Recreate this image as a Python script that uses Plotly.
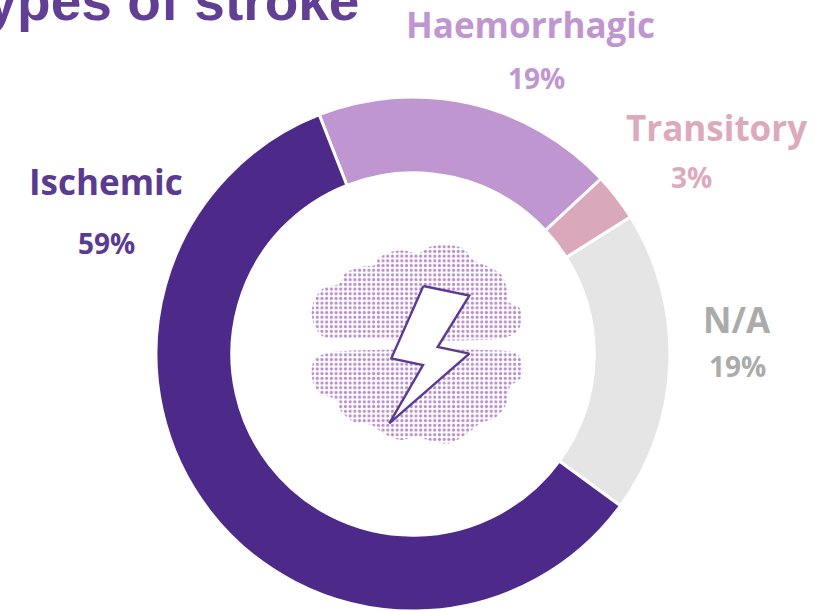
import plotly.graph_objects as go

# Data
categories = ["Haemorrhagic", "Transitory", "N/A", "Ischemic"]
values = [19, 3, 19, 59]
slice_colors = ["#BF96D0", "#D9A9BB", "#E5E5E5", "#4D2A8A"]
label_colors = ["#BF96D0", "#DDA9BC", "#ABABAB", "#5B3A92"]
label_x = [530, 716, 737, 106]
label_y = [24, 127, 319, 181]
value_x = [536, 691, 737, 106]
value_y = [78, 177, 366, 243]
title_text = "Types of stroke"

# Decoration (drawn from the picture, zoomed crop coords -> page px)
upper = [(65,250),(75,205),(100,175),(150,160),(165,130),(215,110),(255,105),(265,85),(305,65),(345,62),(385,70),(420,50),(470,45),(520,55),(550,90),(595,110),(635,135),(650,175),(655,215),(690,235),(695,275),(680,305),(640,325),(170,325),(100,320),(75,290),(65,250)]
lower = [(65,420),(75,385),(110,370),(170,362),(640,362),(680,370),(695,395),(695,440),(660,470),(650,520),(620,560),(570,580),(540,605),(480,640),(430,635),(380,620),(330,630),(280,610),(245,585),(190,575),(150,540),(140,510),(90,490),(70,460),(65,420)]
bolt = [(400,168),(538,197),(443,351),(538,371),(298,580),(399,405),(304,385),(400,168)]
px = lambda pts: ([290 + p[0] / 3 for p in pts], [230 + p[1] / 3 for p in pts])

W, H = 833, 611
CX, CY, R = 413, 354, 257

fig = go.Figure()
for pts in (upper, lower):
    xs, ys = px(pts)
    fig.add_trace(go.Scatter(x=xs, y=ys, mode="lines", line=dict(width=0, color="rgba(0,0,0,0)", shape="spline", smoothing=0.8),
                             fill="toself", fillcolor="rgba(255,255,255,0)",
                             fillpattern=dict(shape=".", size=4.7, solidity=0.34, fgcolor="#B98CCB", bgcolor="white", fgopacity=1),
                             hoverinfo="skip", showlegend=False))
xs, ys = px(bolt)
fig.add_trace(go.Scatter(x=xs, y=ys, mode="lines", line=dict(width=2.4, color="#5B3A92"), fill="toself",
                         fillcolor="white", hoverinfo="skip", showlegend=False))

fig.add_trace(go.Pie(labels=categories, values=values, sort=False, direction="clockwise", rotation=-21.4,
                     hole=0.705, textinfo="none", showlegend=False,
                     marker=dict(colors=slice_colors, line=dict(color="white", width=3)),
                     domain=dict(x=[(CX - R) / W, (CX + R) / W], y=[1 - (CY + R) / H, 1 - (CY - R) / H])))

for c, v, col, lx, ly, vx, vy in zip(categories, values, label_colors, label_x, label_y, value_x, value_y):
    fig.add_annotation(x=lx, y=ly, xref="x", yref="y", text=f"<b>{c}</b>", showarrow=False,
                       font=dict(family="Open Sans", size=35, color=col))
    fig.add_annotation(x=vx, y=vy, xref="x", yref="y", text=f"<b>{v}%</b>", showarrow=False,
                       font=dict(family="Open Sans", size=28, color=col))

fig.add_annotation(x=361, y=1, xref="x", yref="y", xanchor="right", yanchor="middle", text=f"<b>{title_text}</b>", showarrow=False,
                   font=dict(family="Liberation Sans", size=55, color="#613F94"))

fig.update_layout(width=W, height=H, margin=dict(l=0, r=0, t=0, b=0), paper_bgcolor="white", plot_bgcolor="white",
                  xaxis=dict(range=[0, W], visible=False, fixedrange=True),
                  yaxis=dict(range=[H, 0], visible=False, fixedrange=True))
fig.write_html("out.html", config=dict(displayModeBar=False),
               post_script="document.body.style.margin='0';document.documentElement.style.overflow='hidden';")
